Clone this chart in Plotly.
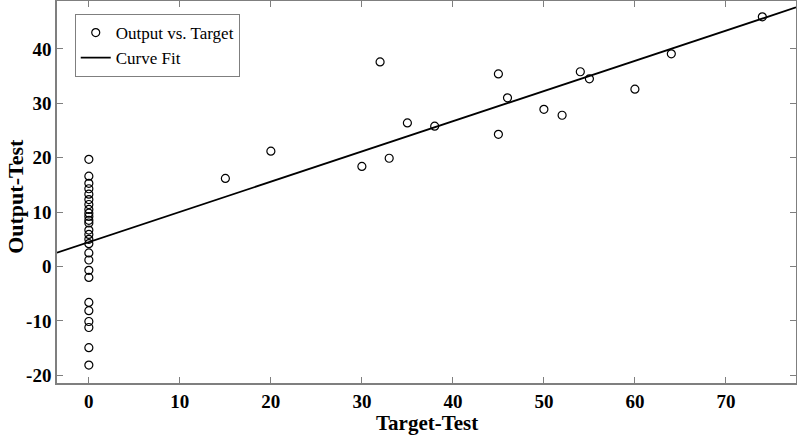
import plotly.graph_objects as go
import numpy as np

# Target values (x) and network outputs (y)
target_zero = [0] * 26
output_zero = [19.7, 16.6, 15.3, 14.3, 13.3, 12.3, 11.4, 10.5, 9.8, 9.2, 8.5, 8.0,
               6.7, 5.9, 5.0, 4.2, 2.5, 1.2, -0.7, -2.0, -6.6, -8.1, -10.1, -11.2,
               -14.9, -18.1]
target_nz = [15, 20, 30, 32, 33, 35, 38, 45, 45, 46, 50, 52, 54, 55, 60, 64, 74]
output_nz = [16.2, 21.2, 18.4, 37.6, 19.9, 26.4, 25.8, 35.4, 24.3, 31.0, 28.9, 27.8,
             35.8, 34.5, 32.6, 39.1, 45.9]

targets = target_zero + target_nz
outputs = output_zero + output_nz

# Curve fit parameters
fit_slope = 0.555
fit_intercept = 4.5

x_range = [-3.5, 77.7]
y_range = [-21.4, 48.8]
x_ticks = [0, 10, 20, 30, 40, 50, 60, 70]
y_ticks = [-20, -10, 0, 10, 20, 30, 40]
y_tick_labels = ["-20", "-10", "0", "10", "20", "30", "40"]

fit_x = np.array(x_range)
fit_y = fit_slope * fit_x + fit_intercept

fig = go.Figure()
fig.add_trace(go.Scatter(
    x=targets, y=outputs, mode="markers", name="Output vs. Target",
    marker=dict(symbol="circle-open", size=8, color="black", line=dict(width=1.2)),
))
fig.add_trace(go.Scatter(
    x=fit_x, y=fit_y, mode="lines", name="Curve Fit",
    line=dict(color="black", width=1.8),
))

tick_font = dict(family="Liberation Serif", size=19, color="black", weight="bold")
title_font = dict(family="Liberation Serif", size=21, color="black", weight="bold")
ytitle_font = dict(family="Liberation Serif", size=22, color="black", weight="bold")

axis_common = dict(
    showgrid=False, zeroline=False, showline=True, linecolor="#7f7f7f", linewidth=1.5,
    mirror="ticks", ticks="inside", ticklen=6, tickcolor="#7f7f7f", tickwidth=1,
    tickfont=tick_font, automargin=False,
)

fig.update_layout(
    width=797, height=436,
    margin=dict(l=57, r=1, t=1, b=53),
    plot_bgcolor="white", paper_bgcolor="white",
    showlegend=True,
    legend=dict(
        x=0.024, y=0.966, xanchor="left", yanchor="top",
        bgcolor="white", bordercolor="#7f7f7f", borderwidth=1,
        font=dict(family="Liberation Serif", size=17, color="black"),
        tracegroupgap=0, itemwidth=30,
    ),
    xaxis=dict(range=x_range, tickvals=x_ticks, **axis_common),
    yaxis=dict(range=y_range, tickvals=y_ticks, ticktext=y_tick_labels, **axis_common),
    annotations=[
        dict(text="Target-Test", xref="paper", yref="paper", x=0.5, y=-0.105,
             xanchor="center", yanchor="middle", showarrow=False, font=title_font),
        dict(text="Output-Test", xref="paper", yref="paper", x=-0.0555, y=0.49,
             xanchor="center", yanchor="middle", showarrow=False, textangle=-90,
             font=ytitle_font),
    ],
)

fig.write_html("out.html", config={"displayModeBar": False},
               post_script="document.body.style.margin='0';")
